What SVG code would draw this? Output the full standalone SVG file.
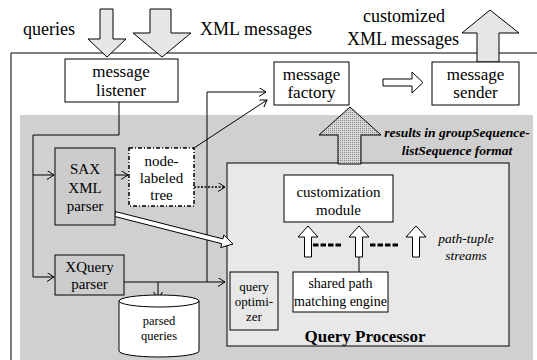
<svg xmlns="http://www.w3.org/2000/svg" width="537" height="360" viewBox="0 0 537 360" font-family="'Liberation Serif', 'Times New Roman', Tinos, 'DejaVu Serif', serif">
<style>
text{font-family:'Liberation Serif','Times New Roman',Tinos,'DejaVu Serif',serif;fill:#000;text-anchor:middle}
.box{stroke:#000;stroke-width:1}
.t18{font-size:18px}.t17{font-size:17px}.t15{font-size:15px}.t14{font-size:14px}.t13{font-size:13px}.t12{font-size:12.5px}
.it{font-style:italic;font-size:13.5px}
.ln{fill:none;stroke:#000;stroke-width:1}
.hollow{fill:#fff;stroke:#000;stroke-width:1}
.big{fill:#e6e6e6;stroke:#000;stroke-width:1}
</style>
<defs>
<marker id="ah" markerUnits="userSpaceOnUse" markerWidth="10" markerHeight="10" refX="7" refY="4.5" orient="auto">
<path d="M0,0 L7,4.5 L0,9" fill="none" stroke="#000" stroke-width="1"/>
</marker>
<pattern id="dots" width="2" height="2" patternUnits="userSpaceOnUse">
<rect width="2" height="2" fill="#d8d8d8"/>
<rect width="1" height="1" fill="#888"/>
</pattern>
</defs>

<path d="M11,360 V53 H537" class="ln"/>
<rect x="20" y="115" width="513" height="245" fill="#d0d0d0"/>
<g id="query-processor">
<rect x="227" y="163" width="282" height="183" fill="#e8e8e8" class="box"/>
<text x="365" y="342" class="t17" font-weight="bold">Query Processor</text>
</g>

<g id="input-arrows">
<polygon points="100,9 113,9 113,39 126,39 107,57 88,39 100,39" class="big"/>
<polygon points="150,9 171,9 171,33 191,33 162,57 133,33 150,33" class="big"/>
<text x="49" y="35" class="t18">queries</text>
<text x="256" y="35" class="t18">XML messages</text>
</g>

<g id="output-arrow">
<polygon points="477,62 477,33 462,33 490,10 519,33 499,33 499,62" class="big"/>
<text x="404" y="22" class="t18">customized</text>
<text x="403" y="45" class="t18">XML messages</text>
</g>

<g id="connectors">
<path d="M119,102 V135 H33 V277 H54" class="ln" marker-end="url(#ah)"/>
<path d="M33,175 H54" class="ln" marker-end="url(#ah)"/>
<path d="M115,175 H128" class="ln" marker-end="url(#ah)"/>
<path d="M194,187 H225" fill="none" stroke="#000" stroke-width="1.3" stroke-dasharray="2,1.5" marker-end="url(#ah)"/>
<path d="M194,148 L267,100" class="ln" marker-end="url(#ah)"/>
<path d="M124,282 H225" class="ln" marker-end="url(#ah)"/>
<path d="M207,282 V92 H266" class="ln" marker-end="url(#ah)"/>
<path d="M158,282 V299" class="ln" marker-end="url(#ah)"/>
<polygon points="383,79 412,79 412,72 423,82.5 412,93 412,86 383,86" class="hollow"/>
<polygon points="115.6,211.6 222.9,238.9 223.9,235 233,244 220.7,247.6 221.7,243.7 114.4,216.4" class="hollow"/>
<polygon points="338,164 338,135 319,135 350,107 381,135 361,135 361,164" fill="url(#dots)" stroke="#000" stroke-width="1"/>
<text x="457" y="137" class="it" font-weight="bold">results in groupSequence-</text>
<text x="457" y="155" class="it" font-weight="bold">listSequence format</text>
<polygon points="304.5,257 304.5,237 298,237 308,226 318,237 311.5,237 311.5,257" class="hollow"/>
<polygon points="355.5,257 355.5,237 349,237 359,226 369,237 362.5,237 362.5,257" class="hollow"/>
<polygon points="412.5,257 412.5,237 406,237 416,226 426,237 419.5,237 419.5,257" class="hollow"/>
<path d="M359,257 V272" class="ln"/>
<path d="M313,245 H341 M370,245 H398" fill="none" stroke="#000" stroke-width="3" stroke-dasharray="5.5,2"/>
<text x="466" y="243" class="it">path-tuple</text>
<text x="466" y="260" class="it">streams</text>
</g>

<g id="message-listener">
<rect x="65" y="59" width="113" height="43" fill="#fff" class="box"/>
<text x="121" y="77" class="t17">message</text>
<text x="121" y="96" class="t17">listener</text>
</g>
<g id="message-factory">
<rect x="274" y="62" width="75" height="43" fill="#fff" class="box"/>
<text x="311.5" y="80" class="t17">message</text>
<text x="311.5" y="98" class="t17">factory</text>
</g>
<g id="message-sender">
<rect x="432" y="62" width="87" height="43" fill="#fff" class="box"/>
<text x="475.5" y="80" class="t17">message</text>
<text x="475.5" y="98" class="t17">sender</text>
</g>
<g id="sax-parser">
<rect x="55" y="148" width="60" height="77" fill="#cccccc" class="box"/>
<text x="85" y="174" class="t15">SAX</text>
<text x="85" y="193" class="t15">XML</text>
<text x="85" y="211" class="t15">parser</text>
</g>
<g id="node-labeled-tree">
<rect x="129" y="148" width="65" height="58" fill="#fff" stroke="#000" stroke-width="1.5" stroke-dasharray="4,2,1,2"/>
<text x="161.5" y="166" class="t15">node-</text>
<text x="161.5" y="183" class="t15">labeled</text>
<text x="161.5" y="200" class="t15">tree</text>
</g>
<g id="xquery-parser">
<rect x="55" y="255" width="69" height="40" fill="#cccccc" class="box"/>
<text x="89.5" y="272" class="t15">XQuery</text>
<text x="89.5" y="289" class="t15">parser</text>
</g>
<g id="parsed-queries">
<path d="M119,301 V351 A40,6 0 0 0 199,351 V301 A40,6 0 0 0 119,301 A40,6 0 0 0 199,301" fill="#fff" class="box"/>
<text x="159" y="325" class="t12">parsed</text>
<text x="159" y="340" class="t12">queries</text>
</g>
<g id="query-optimizer">
<rect x="230" y="272" width="48" height="58" fill="#e8e8e8" class="box"/>
<text x="254" y="291" class="t13">query</text>
<text x="254" y="306" class="t13">optimi-</text>
<text x="254" y="321" class="t13">zer</text>
</g>
<g id="customization-module">
<rect x="284" y="175" width="109" height="47" fill="#fff" class="box"/>
<text x="338.5" y="197" class="t15">customization</text>
<text x="338.5" y="215" class="t15">module</text>
</g>
<g id="shared-path-engine">
<rect x="293" y="272" width="95" height="40" fill="#fff" class="box"/>
<text x="340.5" y="288" class="t14">shared path</text>
<text x="340.5" y="306" class="t14">matching engine</text>
</g>
</svg>
